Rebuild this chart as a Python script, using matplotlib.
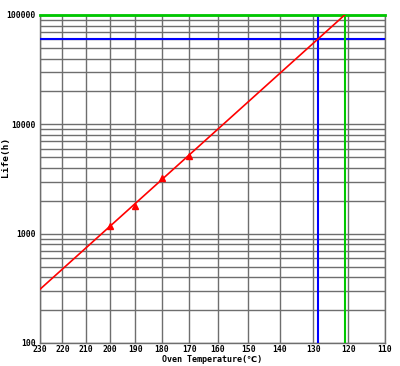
import numpy as np
import matplotlib
matplotlib.use("Agg")
import matplotlib.pyplot as plt
from matplotlib.ticker import FixedLocator, NullFormatter

# red life line (end points) and measured points
line_temp = [230, 121]
line_life = [310, 100000]
point_temp = [200, 190, 180, 170]
point_life = [1170, 1800, 3200, 5100]

# reference lines
blue_temp = 128.5
blue_life = 60000
green_temp = 121
green_life = 100000

x_ticks = [230, 220, 210, 200, 190, 180, 170, 160, 150, 140, 130, 120, 110]
y_ticks = [100, 1000, 10000, 100000]
y_labels = ["100", "1000", "10000", "100000"]

fonts = ["DejaVu Sans Mono", "DejaVu Sans", "Noto Sans CJK JP"]
grid_color = "#6e6e6e"


def forward(t):
    return -1.0 / (np.asarray(t, dtype=float) + 273.15)


def inverse(u):
    return -1.0 / np.asarray(u, dtype=float) - 273.15


fig = plt.figure(figsize=(4, 3.66), dpi=100)
ax = fig.add_axes([0.1, 23 / 366, 0.8625, 328 / 366])

ax.set_xscale("function", functions=(forward, inverse))
ax.set_yscale("log")
ax.set_xlim(230, 110)
ax.set_ylim(100, 100000)

ax.xaxis.set_major_locator(FixedLocator(x_ticks))
ax.xaxis.set_minor_locator(FixedLocator([]))
ax.set_xticklabels([str(t) for t in x_ticks])
ax.yaxis.set_major_locator(FixedLocator(y_ticks))
ax.set_yticklabels(y_labels)
ax.yaxis.set_minor_formatter(NullFormatter())

ax.grid(True, which="both", color=grid_color, linewidth=1)
ax.tick_params(which="both", length=0)
ax.tick_params(axis="x", pad=1.5)
ax.tick_params(axis="y", pad=3)
for lbl in ax.get_xticklabels() + ax.get_yticklabels():
    lbl.set_family(fonts)
    lbl.set_fontweight("bold")
    lbl.set_fontsize(5.8)

for s in ax.spines.values():
    s.set_color(grid_color)
    s.set_linewidth(1)

ax.axvline(blue_temp, color="#0000ff", linewidth=1.5, zorder=3)
ax.axhline(blue_life, color="#0000ff", linewidth=1.5, zorder=3)
ax.axvline(green_temp, color="#00c800", linewidth=1.5, zorder=3)
ax.axhline(green_life, color="#00c800", linewidth=2, zorder=3, clip_on=False)

ax.plot(line_temp, line_life, color="#ff0000", linewidth=1.2, zorder=4)
ax.plot(point_temp, point_life, linestyle="none", marker="^", color="#ff0000",
        markersize=5, zorder=5)

ax.set_xlabel("Oven Temperature(\u2103)", family=fonts, fontweight="bold",
              fontsize=6.0, va="center")
ax.xaxis.set_label_coords(0.5, -(359.5 - 343) / 328)
ax.set_ylabel("Life(h)", family=fonts, fontweight="bold", fontsize=6.8,
              va="center")
ax.yaxis.set_label_coords(-(40 - 6) / 345, (343 - 157) / 328)

fig.savefig("out.png", dpi=100)
